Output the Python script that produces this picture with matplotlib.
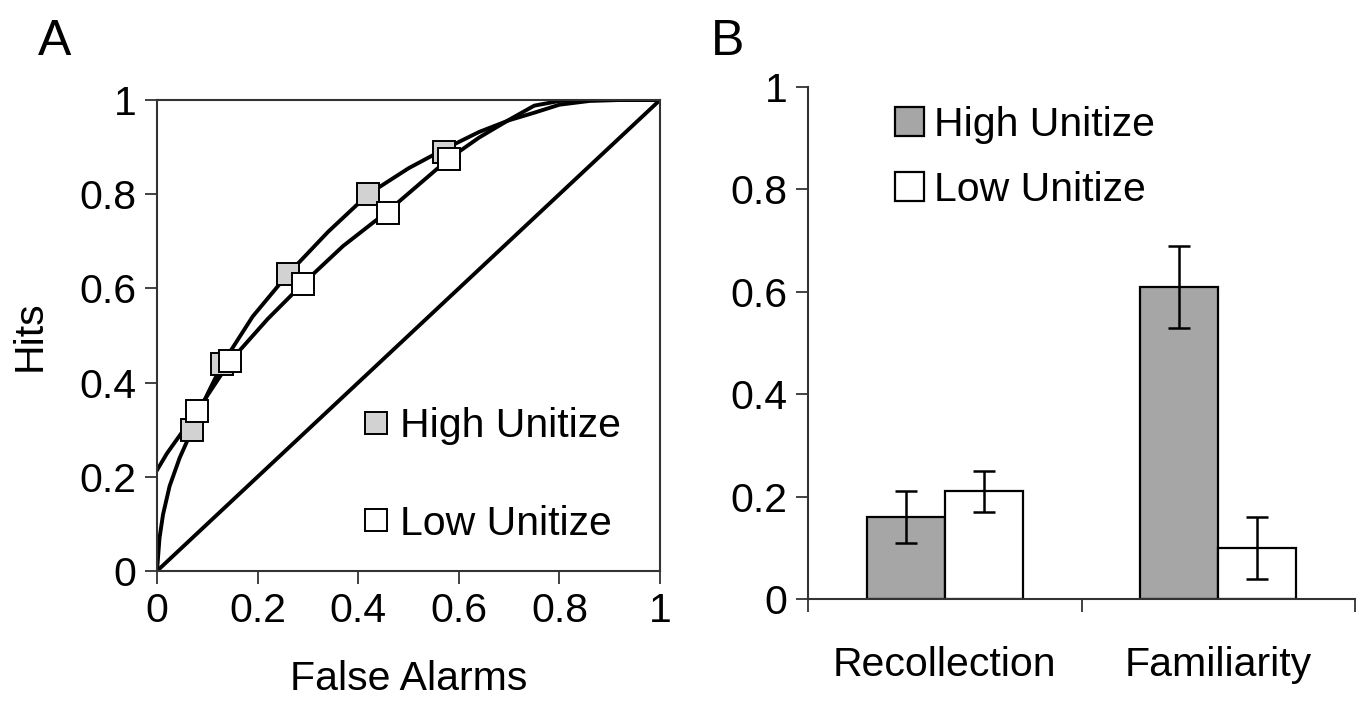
#!/usr/bin/env python3
import matplotlib
matplotlib.use("Agg")
import matplotlib.pyplot as plt

# Panel A: ROC points and fitted curves
high_fa = [0.07, 0.13, 0.26, 0.42, 0.57]
high_hits = [0.30, 0.44, 0.63, 0.80, 0.89]
low_fa = [0.08, 0.145, 0.29, 0.46, 0.58]
low_hits = [0.34, 0.445, 0.61, 0.76, 0.875]

high_curve_x = [0, 0.005, 0.012, 0.025, 0.045, 0.07, 0.10, 0.13, 0.19, 0.26,
                0.34, 0.42, 0.50, 0.57, 0.64, 0.70, 0.75, 0.80, 0.86, 0.92, 1.0]
high_curve_y = [0, 0.07, 0.12, 0.18, 0.24, 0.30, 0.375, 0.44, 0.54, 0.63,
                0.72, 0.80, 0.855, 0.895, 0.932, 0.957, 0.973, 0.99, 0.998, 1.0, 1.0]
low_curve_x = [0, 0.02, 0.04, 0.08, 0.145, 0.22, 0.29, 0.37, 0.46, 0.52,
               0.58, 0.64, 0.70, 0.75, 0.80, 0.86, 0.92, 1.0]
low_curve_y = [0.214, 0.25, 0.28, 0.34, 0.445, 0.535, 0.61, 0.69, 0.765, 0.82,
               0.875, 0.92, 0.958, 0.988, 0.998, 1.0, 1.0, 1.0]
chance = [0, 1]

# Panel B: parameter estimates
categories = ["Recollection", "Familiarity"]
high_vals = [0.16, 0.61]
high_err = [0.05, 0.08]
low_vals = [0.21, 0.10]
low_err = [0.04, 0.06]

plt.rcParams["font.family"] = ["Liberation Sans", "DejaVu Sans"]
plt.rcParams["font.size"] = 29.5

GREY_A = "#d2d2d2"
GREY_B = "#a6a6a6"
SPINE = "#333333"

fig = plt.figure(figsize=(13.68, 7.04), dpi=100)

# ---------------- Panel A ----------------
ax = fig.add_axes([157 / 1368, 1 - 571 / 704, 503 / 1368, 471 / 704])
ax.plot(chance, chance, color="black", lw=2.8, solid_capstyle="round")
ax.plot(high_curve_x, high_curve_y, color="black", lw=2.8)
ax.plot(low_curve_x, low_curve_y, color="black", lw=2.8)
ax.plot(high_fa, high_hits, ls="none", marker="s", ms=16, mfc=GREY_A,
        mec="black", mew=1.4, label="High Unitize")
ax.plot(low_fa, low_hits, ls="none", marker="s", ms=16, mfc="white",
        mec="black", mew=1.4, label="Low Unitize")
ax.set_xlim(0, 1)
ax.set_ylim(0, 1)
ax.set_xticks([0, 0.2, 0.4, 0.6, 0.8, 1])
ax.set_xticklabels(["0", "0.2", "0.4", "0.6", "0.8", "1"])
ax.set_yticks([0, 0.2, 0.4, 0.6, 0.8, 1])
ax.set_yticklabels(["0", "0.2", "0.4", "0.6", "0.8", "1"])
ax.tick_params(direction="out", length=9, width=1.3, color=SPINE, pad=6)
for s in ax.spines.values():
    s.set_color(SPINE)
    s.set_linewidth(1.5)
ax.set_xlabel("False Alarms", labelpad=22)
ax.set_ylabel("Hits", labelpad=22)
ax.legend(loc="lower left", bbox_to_anchor=(0.37, 0.025), frameon=False,
          handletextpad=0.2, handlelength=0.8, labelspacing=1.45,
          borderaxespad=0)
fig.text(55 / 1368, 1 - 42 / 704, "A", fontsize=36, ha="center", va="center")

# ---------------- Panel B ----------------
bx = fig.add_axes([808 / 1368, 1 - 599 / 704, 547 / 1368, 512 / 704])
centers = [0.5, 1.5]
w = 0.285
bx.bar([c - w / 2 for c in centers], high_vals, width=w, color=GREY_B,
       edgecolor="black", lw=1.6, label="High Unitize")
bx.bar([c + w / 2 for c in centers], low_vals, width=w, color="white",
       edgecolor="black", lw=1.6, label="Low Unitize")
bx.errorbar([c - w / 2 for c in centers], high_vals, yerr=high_err, fmt="none",
            ecolor="black", elinewidth=1.8, capsize=8, capthick=1.8)
bx.errorbar([c + w / 2 for c in centers], low_vals, yerr=low_err, fmt="none",
            ecolor="black", elinewidth=1.8, capsize=8, capthick=1.8)
bx.set_xlim(0, 2)
bx.set_ylim(0, 1)
bx.set_yticks([0, 0.2, 0.4, 0.6, 0.8, 1])
bx.set_yticklabels(["0", "0.2", "0.4", "0.6", "0.8", "1"])
bx.set_xticks([0, 1, 2])
bx.set_xticklabels([])
bx.set_xticks(centers, minor=True)
bx.set_xticklabels(categories, minor=True)
bx.tick_params(axis="x", which="minor", length=0, pad=34)
bx.tick_params(axis="both", which="major", direction="out", length=9,
               width=1.3, color=SPINE, pad=6)
bx.spines["top"].set_visible(False)
bx.spines["right"].set_visible(False)
for s in ["left", "bottom"]:
    bx.spines[s].set_color(SPINE)
    bx.spines[s].set_linewidth(1.5)
bx.legend(loc="upper left", bbox_to_anchor=(0.13, 0.995), frameon=False,
          handletextpad=0.25, handlelength=0.7, handleheight=0.7,
          labelspacing=0.65, borderaxespad=0)
fig.text(728 / 1368, 1 - 42 / 704, "B", fontsize=36, ha="center", va="center")

fig.savefig("out.png", dpi=100)
